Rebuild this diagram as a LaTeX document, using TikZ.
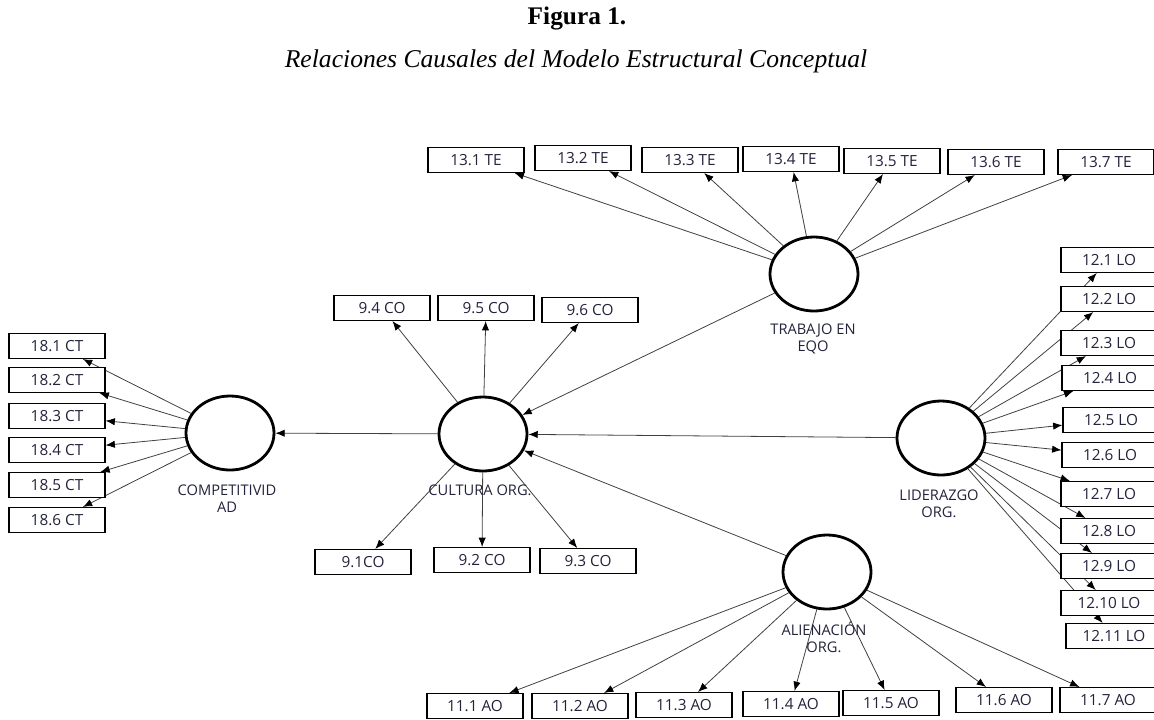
\documentclass[tikz,border=0pt]{standalone}
\usepackage{fontspec}
\newfontfamily\lblfont{Open Sans}
\newfontfamily\ttlfont{Liberation Serif}
\usetikzlibrary{arrows.meta,shapes.geometric,backgrounds}
\definecolor{txtcol}{RGB}{35,35,60}

\begin{document}
\begin{tikzpicture}[x=0.75pt,y=-0.75pt,
	box/.style={draw=black, line width=0.8pt, fill=white, minimum width=72pt, minimum height=18.75pt, inner sep=0pt, font=\lblfont\fontsize{11.5}{13.5}\selectfont, text=txtcol},
	lat/.style={ellipse, draw=black, line width=2.1pt, fill=white, minimum width=66pt, minimum height=55.5pt, inner sep=0pt},
	lbl/.style={align=center, font=\lblfont\fontsize{11}{13}\selectfont, text=txtcol},
	arr/.style={-{Latex[length=7pt,width=5.5pt,color=black]}, line width=0.6pt, draw=black!75}]
\useasboundingbox (0,0) rectangle (1154,719);
\clip (0,0) rectangle (1154,719);

\node[font=\ttlfont\bfseries\fontsize{19}{22}\selectfont] (ttl) at (577,18) {Figura 1.};
\node[font=\ttlfont\itshape\fontsize{19.2}{22}\selectfont] (subttl) at (576,61) {Relaciones Causales del Modelo Estructural Conceptual};

\node[lat] (comp) at (230,433) {};
\node[lat] (cult) at (483,434) {};
\node[lat] (teq) at (814,274) {};
\node[lat] (lid) at (941,438) {};
\node[lat] (alien) at (827,572) {};

\node[lbl] (compl) at (227,499) {COMPETITIVID\\AD};
\node[lbl] (cultl) at (480,490) {CULTURA ORG.};
\node[lbl] (teql) at (813,339) {TRABAJO EN\\EQO};
\node[lbl] (lidl) at (939,504) {LIDERAZGO\\ORG.};
\node[lbl] (alienl) at (824,637) {ALIENACIÓN\\ORG.};

\foreach \i/\y in {1/346,2/380,3/416,4/450,5/485,6/520}{
	\node[box] (ct\i) at (57,\y) {18.\i\ CT};
	}
\foreach \i/\x/\y/\t in {1/363/562/9.1CO, 2/482/560/9.2 CO, 3/588/561/9.3 CO, 4/382/308/9.4 CO, 5/486/308/9.5 CO, 6/590/310/9.6 CO}{
	\node[box] (co\i) at (\x,\y) {\t};
	}
\foreach \i/\x/\y in {1/476/160,2/583/158,3/690/160,4/791/159,5/892/161,6/996/162,7/1106/162}{
	\node[box] (te\i) at (\x,\y) {13.\i\ TE};
	}
\foreach \i/\x/\y in {1/1109/260,2/1109/299,3/1109/343,4/1110/378,5/1111/420,6/1110/455,7/1109/494,8/1109/531,9/1109/566,10/1109/603,11/1114/636}{
	\node[box] (lo\i) at (\x,\y) {12.\i\ LO};
	}
\foreach \i/\x/\y in {1/475/706,2/580/706,3/684/705,4/791/704,5/891/703,6/1004/700,7/1108/700}{
	\node[box] (ao\i) at (\x,\y) {11.\i\ AO};
	}

\begin{scope}[on background layer]
\draw[arr] (cult) -- (comp);
\draw[arr] (teq) -- (cult);
\draw[arr] (lid) -- (cult);
\draw[arr] (alien) -- (cult);
\foreach \i in {1,...,6}{
	\draw[arr] (comp) -- (ct\i);
	\draw[arr] (cult) -- (co\i);
	}
\foreach \i in {1,...,7}{
	\draw[arr] (teq) -- (te\i);
	\draw[arr] (alien) -- (ao\i);
	}
\foreach \i in {1,...,11}{
	\draw[arr] (lid) -- (lo\i);
	}
\end{scope}
\end{tikzpicture}
\end{document}
